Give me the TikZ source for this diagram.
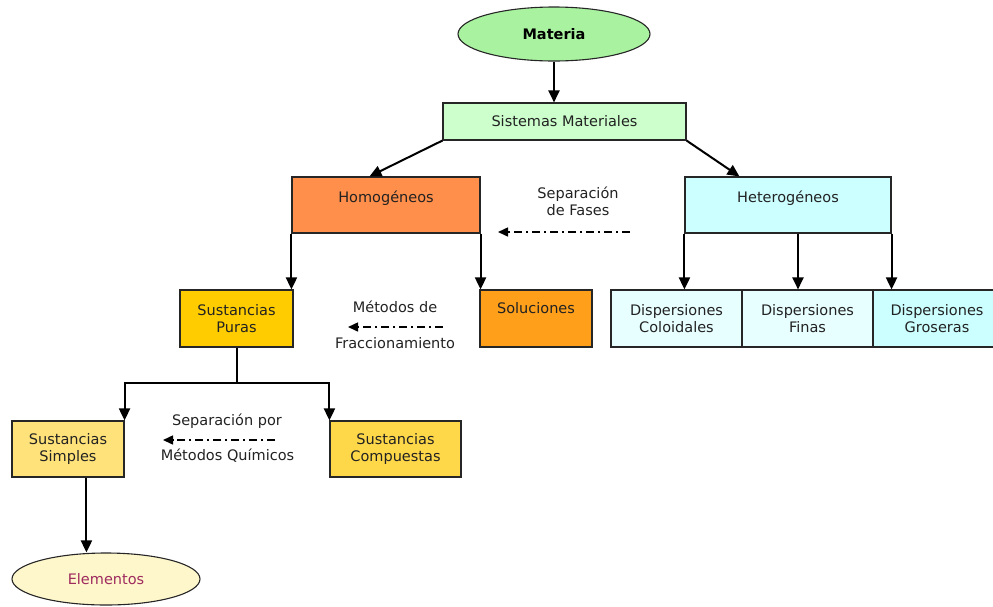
\documentclass[tikz,border=0pt]{standalone}
\usepackage{fontspec}
\setmainfont{DejaVu Sans}
\usetikzlibrary{arrows.meta,shapes.geometric}
\definecolor{cMat}{HTML}{A8F2A0}
\definecolor{cSis}{HTML}{CCFFCC}
\definecolor{cHom}{HTML}{FF8F4A}
\definecolor{cHet}{HTML}{CCFFFF}
\definecolor{cPur}{HTML}{FFCC00}
\definecolor{cSol}{HTML}{FF9F1A}
\definecolor{cDisL}{HTML}{E8FFFF}
\definecolor{cDisD}{HTML}{CCFFFF}
\definecolor{cSim}{HTML}{FFE27A}
\definecolor{cCom}{HTML}{FFD84A}
\definecolor{cEle}{HTML}{FFF7CC}
\definecolor{cEleT}{HTML}{9E2A5E}
\definecolor{cTxt}{HTML}{222222}
\begin{document}
\begin{tikzpicture}[x=1pt,y=-1pt,
  box/.style={draw=black!85, line width=1.1pt, inner sep=0pt, text=cTxt,
    font=\fontsize{14.5}{17}\selectfont, align=center},
  oval/.style={box, ellipse},
  toptext/.style={inner ysep=0pt, text height=25pt, text depth=31pt},
  lbl/.style={inner sep=0pt, text=cTxt, font=\fontsize{14.5}{17}\selectfont, anchor=base},
  arr/.style={line width=2pt, -{Triangle[length=12pt,width=11pt]}},
  sepline/.style={line width=1.5pt, dash pattern=on 8pt off 4pt on 2pt off 4pt,
    -{Triangle[length=10pt,width=9pt]}}
]
\useasboundingbox (0,0) rectangle (993,606);

% nodes
\node[oval, fill=cMat, minimum width=192pt, minimum height=54pt,
  font=\fontsize{14.5}{17}\selectfont\bfseries, text=black] (mat) at (554,34) {Materia};
\node[box, fill=cSis, minimum width=243pt, minimum height=37pt] (sis) at (564.5,121.5) {Sistemas Materiales};
\node[box, fill=cHom, minimum width=188pt, toptext] (hom) at (386,205) {Homogéneos};
\node[box, fill=cHet, minimum width=206pt, toptext] (het) at (788,205) {Heterogéneos};
\node[box, fill=cPur, minimum width=113pt, minimum height=57pt] (pur) at (236.5,318.5) {Sustancias\\Puras};
\node[box, fill=cSol, minimum width=112pt, inner ysep=0pt, text height=23pt, text depth=34pt] (sol) at (536,318.5) {Soluciones};
\node[box, fill=cDisL, minimum width=131pt, minimum height=57pt] (col) at (676.5,318.5) {Dispersiones\\Coloidales};
\node[box, fill=cDisL, minimum width=131pt, minimum height=57pt] (fin) at (807.5,318.5) {Dispersiones\\Finas};
\node[box, fill=cDisD, minimum width=128pt, minimum height=57pt] (gro) at (937,318.5) {Dispersiones\\Groseras};
\node[box, fill=cSim, minimum width=112pt, minimum height=56pt] (simp) at (68,449) {Sustancias\\Simples};
\node[box, fill=cCom, minimum width=131pt, minimum height=56pt] (comp) at (395.5,449) {Sustancias\\Compuestas};
\node[oval, fill=cEle, minimum width=188pt, minimum height=52pt, text=cEleT] (elem) at (106,579) {Elementos};

% free labels
\node[lbl] (fa1) at (578,198) {Separación};
\node[lbl] (fa2) at (578,215) {de Fases};
\node[lbl] (fr1) at (395,312) {Métodos de};
\node[lbl] (fr2) at (395,348) {Fraccionamiento};
\node[lbl] (qu1) at (227,425) {Separación por};
\node[lbl] (qu2) at (227.5,460) {Métodos Químicos};

% connectors
\draw[arr] (mat.south) -- (mat.south |- sis.north);
\draw[arr] (sis.south west) -- ([xshift=78pt]hom.north west);
\draw[arr] (sis.south east) -- ([xshift=55pt]het.north west);
\draw[arr] (hom.south west) -- (hom.south west |- pur.north);
\draw[arr] (hom.south east) -- (hom.south east |- sol.north);
\draw[arr] (het.south west) -- (het.south west |- col.north);
\draw[arr] ([xshift=10pt]het.south) -- ([xshift=10pt]het.south |- fin.north);
\draw[arr] (het.south east) -- (het.south east |- gro.north);
\coordinate (jn) at (236.5,383);
\draw[line width=2pt] (pur.south) -- (jn);
\draw[arr] (jn) -| (simp.north east);
\draw[arr] (jn) -| (comp.north west);
\draw[arr] ([xshift=75pt]simp.south west) -- ([xshift=75pt]simp.south west |- elem.north);

% separation arrows
\coordinate (fA) at (630,232);
\coordinate (fB) at (498,232);
\draw[sepline] (fA) -- (fB);
\coordinate (rA) at (443,327);
\coordinate (rB) at (348,327);
\draw[sepline] (rA) -- (rB);
\coordinate (qA) at (275,440);
\coordinate (qB) at (163,440);
\draw[sepline] (qA) -- (qB);
\end{tikzpicture}
\end{document}
